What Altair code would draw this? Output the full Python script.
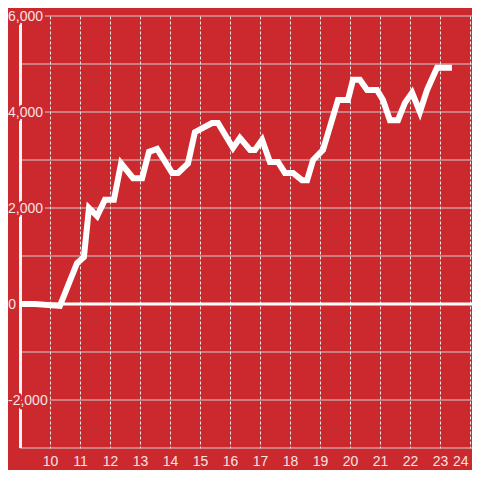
import altair as alt
import pandas as pd

# ---- data ----
hours = [9.0, 9.5, 10.33, 10.9, 11.13, 11.3, 11.57, 11.83, 12.13, 12.37, 12.77, 13.07,
         13.3, 13.57, 14.07, 14.27, 14.6, 14.83, 15.4, 15.6, 16.1, 16.33, 16.67, 16.83,
         17.07, 17.33, 17.6, 17.83, 18.1, 18.4, 18.57, 18.77, 19.1, 19.6, 19.93, 20.1,
         20.33, 20.57, 20.9, 21.1, 21.33, 21.6, 21.83, 22.07, 22.33, 22.57, 22.9, 23.4]
values = [0, 0, -40, 850, 980, 2000, 1830, 2170, 2170, 2930, 2620, 2620,
          3170, 3230, 2730, 2730, 2930, 3580, 3770, 3770, 3250, 3460, 3210, 3210,
          3420, 2960, 2960, 2730, 2730, 2580, 2580, 3000, 3210, 4250, 4250, 4670,
          4670, 4460, 4460, 4250, 3830, 3830, 4190, 4400, 4000, 4460, 4920, 4920]

x_ticks = list(range(10, 25))
y_grid = list(range(-3000, 7000, 1000))
y_label_values = [-2000, 2000, 4000, 6000]
y_label_text = ["-2,000", "2,000", "4,000", "6,000"]
zero_label_values = [0]
zero_label_text = ["0"]

BG = "#cc292e"
LABEL = "#f4e4e4"
FONT = "Liberation Sans"

df = pd.DataFrame({"hour": hours, "value": values})
xs = alt.Scale(domain=[9, 24.0667], nice=False, zero=False)
ys = alt.Scale(domain=[-3000, 6000], nice=False, zero=False)

x_axis = alt.Axis(values=x_ticks, grid=True, gridDash=[3, 2], gridColor="#e8e8e8",
                  gridWidth=1, domain=False, ticks=False, tickSize=0, labelPadding=6,
                  labelFontSize=14, labelFont=FONT, labelColor=LABEL,
                  labelFlush=5, labelFlushOffset=-2,
                  title=None, format="d")

hgrid = alt.Chart(pd.DataFrame({"v": y_grid})).mark_rule(
    color="#cfcfcf", strokeWidth=1
).encode(y=alt.Y("v:Q", scale=ys, axis=None))

axis_line = alt.Chart(pd.DataFrame({"a": [0]})).mark_rule(
    color="#f5f5f5", strokeWidth=3
).encode(x=alt.value(0.5), y=alt.value(0), y2=alt.value(432))

zero_line = alt.Chart(pd.DataFrame({"v": [0]})).mark_rule(
    color="white", strokeWidth=3
).encode(y=alt.Y("v:Q", scale=ys, axis=None))

line = alt.Chart(df).mark_line(color="white", strokeWidth=6, strokeJoin="miter").encode(
    x=alt.X("hour:Q", scale=xs, axis=x_axis),
    y=alt.Y("value:Q", scale=ys, axis=None),
)

lab_df = pd.DataFrame({"v": y_label_values, "t": y_label_text})
halo = alt.Chart(lab_df).mark_text(
    align="left", baseline="middle", fontSize=14, font=FONT, dy=1,
    fill=BG, stroke=BG, strokeWidth=5, strokeJoin="round"
).encode(x=alt.value(-12), y=alt.Y("v:Q", scale=ys, axis=None), text="t:N")
labels = alt.Chart(lab_df).mark_text(
    align="left", baseline="middle", fontSize=14, font=FONT, dy=1, color=LABEL
).encode(x=alt.value(-12), y=alt.Y("v:Q", scale=ys, axis=None), text="t:N")

zero_lab = alt.Chart(pd.DataFrame({"v": zero_label_values, "t": zero_label_text})).mark_text(
    align="right", baseline="middle", fontSize=14, font=FONT, dy=1, color=LABEL
).encode(x=alt.value(-4), y=alt.Y("v:Q", scale=ys, axis=None), text="t:N")

chart = alt.layer(hgrid, axis_line, zero_line, line, halo, labels, zero_lab).properties(
    width=452, height=432,
    background=BG,
    padding={"left": 12, "top": 8, "right": 0, "bottom": 22},
    autosize=alt.AutoSizeParams(type="none"),
).configure_view(strokeWidth=0)

chart.save("out.html", embed_options={"renderer": "svg", "actions": False})
